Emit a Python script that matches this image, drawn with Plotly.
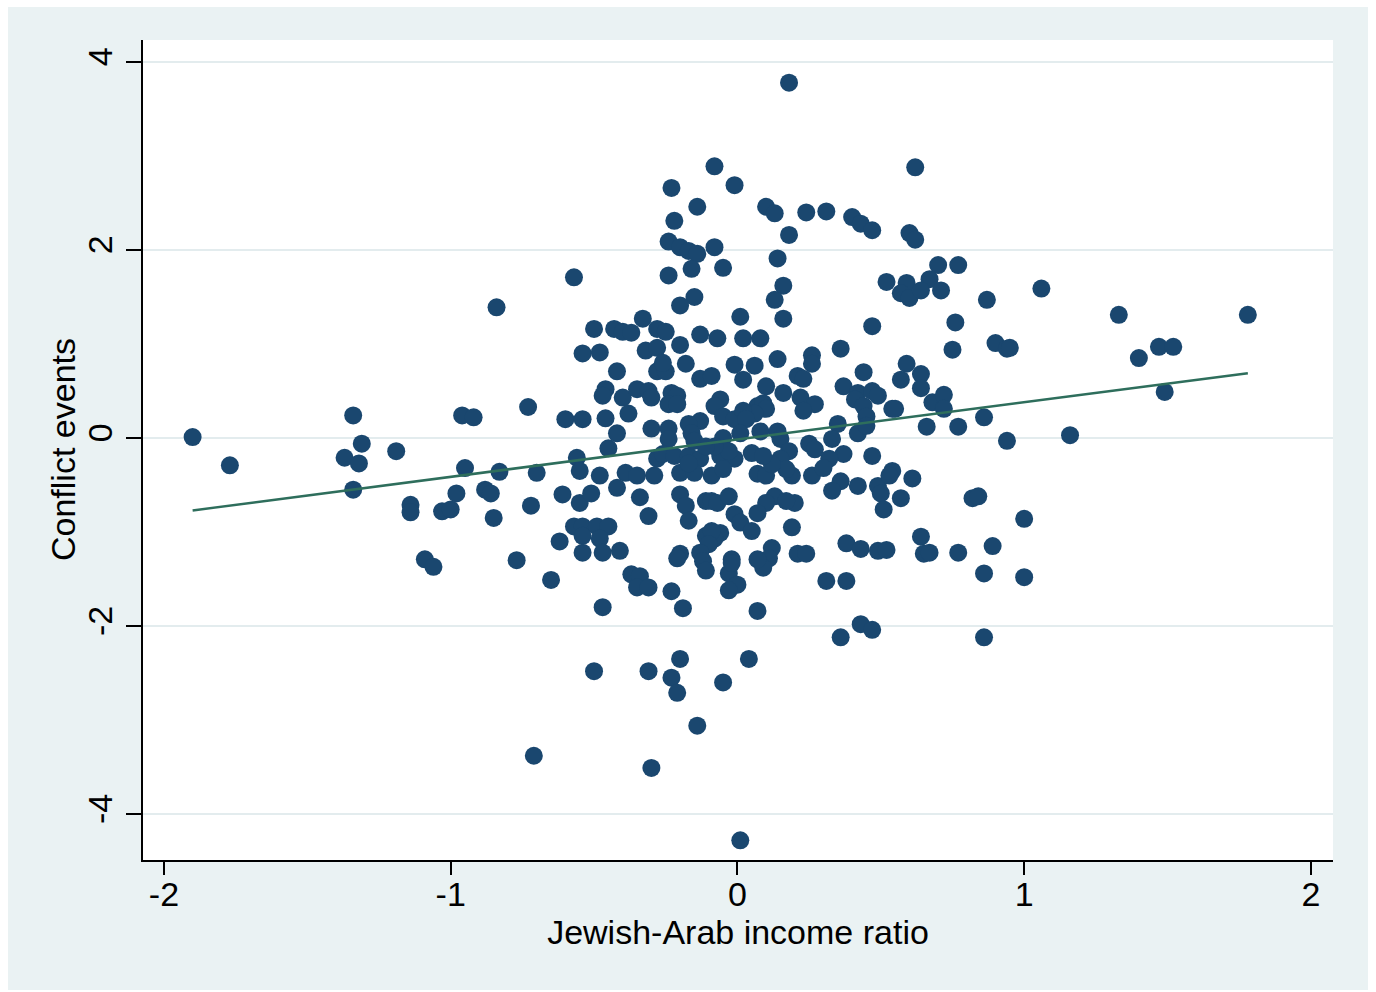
import plotly.graph_objects as go

# Jewish-Arab income ratio (x) vs. conflict events (y), standardized
income_ratio = [
    0.18, -0.08, 0.62, -0.01, -0.23, -0.14, 0.10, 0.13, 0.24, 0.31,
    0.40, 0.43, 0.47, -0.22, 0.18, 0.60, 0.62, -0.24, -0.20, -0.17,
    -0.14, -0.08, 0.14, -0.57, -0.24, -0.16, -0.05, 0.70, 0.77, 0.16,
    0.52, 0.59, 0.67, 0.57, 0.60, 0.64, 0.71, 1.06, 0.87, -0.15,
    0.13, -0.20, -0.84, 0.01, 0.16, 0.47, 0.76, 1.33, 1.78, -0.50,
    -0.43, -0.40, -0.37, -0.33, -0.28, -0.25, -0.13, -0.07, 0.02, 0.08,
    0.90, -0.54, -0.48, -0.32, -0.28, -0.20, 0.36, 0.75, 0.26, 0.26,
    0.14, -0.01, 0.06, 0.94, 0.95, 1.47, 1.52, 1.40, 0.59, -0.42,
    -0.28, -0.25, -0.26, -0.18, -0.13, -0.09, 0.44, 0.64, 0.57, 0.02,
    0.21, 0.23, -0.46, -0.47, -0.40, -0.35, -0.31, -0.30, -0.23, -0.21,
    -0.24, -0.21, 0.10, 0.37, 0.42, 0.47, 0.49, 0.16, 0.22, 0.27,
    0.41, 0.44, 0.45, 0.07, 0.09, 0.10, 0.06, 0.23, -0.06, -0.08,
    -0.05, -0.01, 0.02, 0.03, 0.64, 0.68, 0.72, 0.72, 0.54, 0.55,
    0.86, 1.49, -0.60, -0.54, -0.46, -0.38, -0.13, -0.17, -1.34, -0.96,
    -0.92, -0.73, -0.42, -0.30, -0.24, -0.16, -0.24, -0.45, -0.28, -0.26,
    -0.05, 0.01, 0.08, 0.14, 0.15, 0.35, 0.42, 0.45, 0.18, 0.15,
    0.25, 0.27, 0.33, 0.37, 0.32, 0.47, -0.06, -0.01, -0.03, -0.22,
    -0.17, -0.13, -0.08, 0.66, 0.77, 0.94, 1.16, -1.90, -1.31, -1.37,
    -1.32, -1.19, -1.77, -1.34, -0.95, -0.83, -0.70, -0.98, -0.88, -0.86,
    -0.61, -1.14, -1.14, -1.03, -1.00, -0.85, -0.72, -0.56, -0.55, -0.48,
    -0.39, -0.35, -0.29, -0.42, -0.55, -0.51, -0.34, -0.20, -0.18, -0.17,
    -0.31, -0.11, -0.09, -0.20, -0.15, -0.09, -0.05, 0.07, 0.10, 0.19,
    0.17, 0.26, 0.36, 0.33, 0.42, 0.49, 0.50, 0.51, -0.07, -0.03,
    0.13, 0.10, 0.20, 0.17, 0.07, -0.01, 0.54, 0.53, 0.61, 0.57,
    0.82, 0.84, 1.00, 0.12, 0.30, 0.01, 0.05, -0.06, -0.08, 0.19,
    0.38, 0.43, 0.49, 0.52, 0.12, 0.11, 0.09, 0.07, -0.02, 0.21,
    0.24, -0.62, -0.57, -0.54, -0.54, -0.49, -0.45, -0.48, -0.41, -0.54,
    -0.47, -0.20, -0.11, -0.09, -0.10, -0.13, -1.09, -1.06, -0.77, -0.65,
    -0.37, -0.34, -0.35, -0.31, -0.23, -0.21, -0.12, -0.11, -0.03, -0.02,
    0.00, -0.03, 0.31, 0.38, 0.64, 0.65, 0.67, 0.77, 0.89, 0.86,
    1.00, -0.47, -0.19, 0.07, 0.43, 0.47, 0.36, 0.86, -0.50, -0.31,
    -0.20, -0.23, -0.21, -0.05, 0.04, -0.14, -0.71, -0.30, 0.01, -0.15,
    -0.11, -0.17, 0.05, 0.09,
]

conflict_events = [
    3.78, 2.89, 2.88, 2.69, 2.66, 2.46, 2.46, 2.39, 2.40, 2.41,
    2.35, 2.28, 2.21, 2.31, 2.16, 2.18, 2.11, 2.09, 2.03, 1.99,
    1.96, 2.03, 1.91, 1.71, 1.73, 1.80, 1.81, 1.84, 1.84, 1.62,
    1.66, 1.65, 1.69, 1.54, 1.49, 1.57, 1.57, 1.59, 1.47, 1.50,
    1.47, 1.41, 1.39, 1.29, 1.27, 1.19, 1.23, 1.31, 1.31, 1.16,
    1.16, 1.13, 1.12, 1.27, 1.16, 1.13, 1.10, 1.06, 1.06, 1.06,
    1.01, 0.90, 0.91, 0.93, 0.96, 0.99, 0.95, 0.94, 0.88, 0.79,
    0.84, 0.78, 0.77, 0.95, 0.96, 0.97, 0.97, 0.85, 0.79, 0.71,
    0.71, 0.71, 0.80, 0.79, 0.63, 0.66, 0.70, 0.68, 0.62, 0.62,
    0.66, 0.63, 0.52, 0.45, 0.43, 0.52, 0.50, 0.43, 0.48, 0.45,
    0.36, 0.36, 0.55, 0.55, 0.48, 0.50, 0.45, 0.48, 0.43, 0.36,
    0.41, 0.34, 0.23, 0.34, 0.37, 0.31, 0.26, 0.29, 0.41, 0.34,
    0.23, 0.20, 0.29, 0.20, 0.53, 0.38, 0.46, 0.31, 0.31, 0.31,
    0.22, 0.49, 0.20, 0.20, 0.21, 0.26, 0.18, 0.15, 0.24, 0.24,
    0.22, 0.33, 0.05, 0.10, 0.10, 0.05, -0.01, -0.11, -0.22, -0.17,
    0.00, 0.05, 0.07, 0.07, -0.01, 0.15, 0.05, 0.13, -0.14, -0.22,
    -0.06, -0.12, -0.01, -0.17, -0.22, -0.19, -0.19, -0.22, -0.14, -0.19,
    -0.19, -0.22, -0.09, 0.12, 0.12, -0.03, 0.03, 0.01, -0.06, -0.21,
    -0.27, -0.14, -0.29, -0.55, -0.32, -0.36, -0.37, -0.59, -0.55, -0.59,
    -0.60, -0.71, -0.79, -0.78, -0.76, -0.85, -0.72, -0.21, -0.35, -0.40,
    -0.37, -0.40, -0.40, -0.53, -0.69, -0.59, -0.63, -0.60, -0.72, -0.88,
    -0.83, -0.67, -0.67, -0.37, -0.37, -0.40, -0.33, -0.38, -0.40, -0.40,
    -0.33, -0.40, -0.46, -0.56, -0.51, -0.51, -0.59, -0.76, -0.69, -0.62,
    -0.62, -0.69, -0.69, -0.67, -0.80, -0.81, -0.35, -0.40, -0.43, -0.64,
    -0.64, -0.62, -0.86, -0.28, -0.32, -0.90, -0.99, -1.01, -1.07, -0.95,
    -1.12, -1.18, -1.20, -1.19, -1.17, -1.28, -1.38, -1.29, -1.29, -1.23,
    -1.23, -1.10, -0.94, -0.94, -1.04, -0.94, -0.94, -1.07, -1.20, -1.22,
    -1.22, -1.23, -1.04, -0.99, -1.13, -1.22, -1.29, -1.37, -1.30, -1.51,
    -1.45, -1.47, -1.59, -1.59, -1.63, -1.28, -1.31, -1.41, -1.44, -1.33,
    -1.56, -1.62, -1.52, -1.52, -1.05, -1.23, -1.22, -1.22, -1.15, -1.44,
    -1.48, -1.80, -1.81, -1.84, -1.98, -2.04, -2.12, -2.12, -2.48, -2.48,
    -2.35, -2.55, -2.71, -2.60, -2.35, -3.06, -3.38, -3.51, -4.28, -0.03,
    -0.09, -0.27, -0.16, -0.19,
]

# Linear fit endpoints
fit_x = [-1.90, 1.78]
fit_y = [-0.77, 0.69]

x_ticks = [-2, -1, 0, 1, 2]
x_tick_labels = ["-2", "-1", "0", "1", "2"]
y_ticks = [-4, -2, 0, 2, 4]
y_tick_labels = ["-4", "-2", "0", "2", "4"]

NAVY = "#1a476f"
FIT = "#2e6e5c"
PANEL = "#eaf2f3"
GRID = "#e3ecee"
FONT = "Liberation Sans, Arial, Helvetica, sans-serif"

W, H = 1376, 992
L, R, T, B = 143, 43, 40, 132

fig = go.Figure()
fig.add_trace(go.Scatter(
    x=income_ratio, y=conflict_events, mode="markers",
    marker=dict(size=18, color=NAVY, line=dict(width=0)),
    hoverinfo="skip",
))
fig.add_trace(go.Scatter(
    x=fit_x, y=fit_y, mode="lines",
    line=dict(color=FIT, width=2.5),
    hoverinfo="skip",
))

# thin white frame around the light panel
pw, ph = W - L - R, H - T - B
def px_x(p):
    return (p - L) / pw
def px_y(p):
    return (H - B - p) / ph
frame = [
    (0, 8, -10, H + 10),
    (W - 8, W, -10, H + 10),
    (-10, W + 10, 0, 7),
    (-10, W + 10, H - 2, H),
]
shapes = []
for x0, x1, y0, y1 in frame:
    shapes.append(dict(
        type="rect", xref="paper", yref="paper",
        x0=px_x(x0), x1=px_x(x1), y0=px_y(y1), y1=px_y(y0),
        fillcolor="white", line=dict(width=0), layer="below",
    ))

fig.update_layout(
    width=W, height=H,
    margin=dict(l=L, r=R, t=T, b=B, autoexpand=False),
    paper_bgcolor=PANEL, plot_bgcolor="white",
    showlegend=False,
    font=dict(family=FONT, size=34, color="black"),
    shapes=shapes,
    annotations=[dict(
        text="Conflict events", textangle=-90,
        xref="paper", yref="paper", x=px_x(63), y=px_y(450),
        xanchor="center", yanchor="middle", showarrow=False,
        font=dict(size=34),
    )],
    xaxis=dict(
        range=[-2.073, 2.077], tickvals=x_ticks, ticktext=x_tick_labels,
        ticks="outside", ticklen=13, tickwidth=2, tickcolor="black",
        ticklabelstandoff=-10,
        showline=True, linewidth=2, linecolor="black",
        showgrid=False, zeroline=False,
        tickfont=dict(size=34),
        title=dict(text="Jewish-Arab income ratio", font=dict(size=34), standoff=6),
    ),
    yaxis=dict(
        range=[-4.489, 4.234], tickvals=y_ticks, ticktext=y_tick_labels,
        ticks="outside", ticklen=15, tickwidth=2, tickcolor="black",
        tickangle=-90,
        showline=True, linewidth=2, linecolor="black",
        showgrid=True, gridcolor=GRID, gridwidth=2, zeroline=False,
        tickfont=dict(size=34),
    ),
)

fig.write_html("out.html")
